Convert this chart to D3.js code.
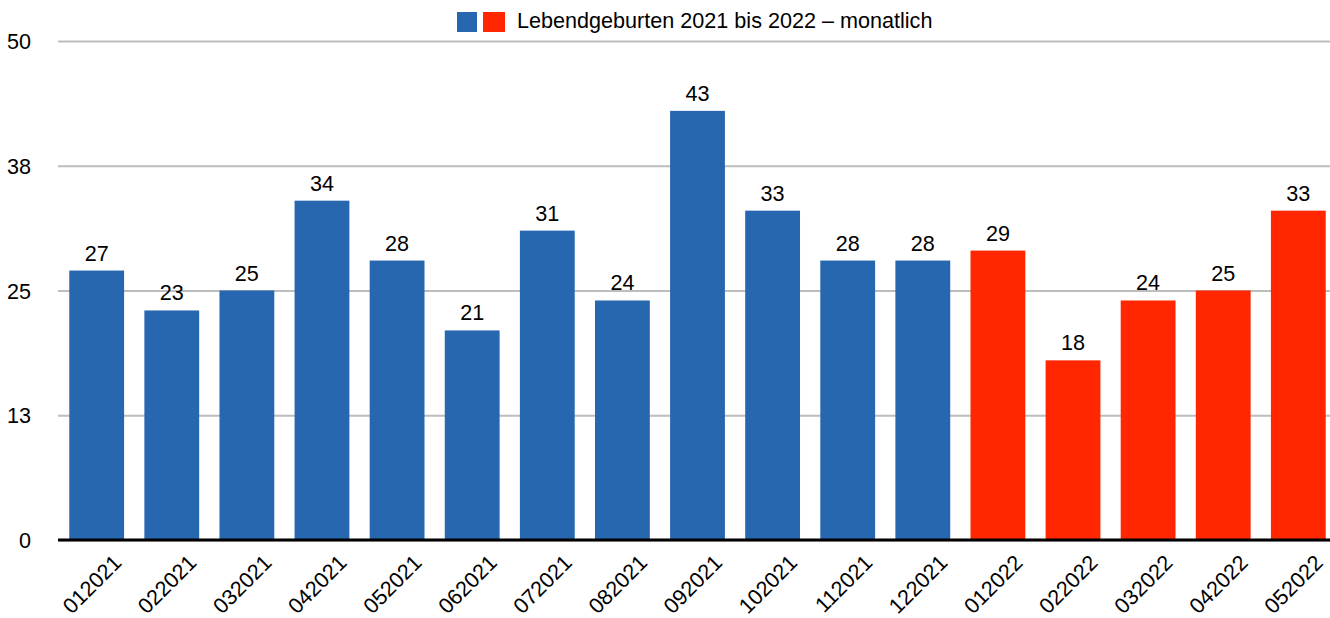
<!DOCTYPE html>
<html>
<head>
<meta charset="utf-8">
<script src="https://cdn.jsdelivr.net/npm/d3@7"></script>
<style>
  body { margin: 0; background: #fff; }
  svg text { font-family: Arial, "Liberation Sans", sans-serif; fill: #000; }
</style>
</head>
<body>
<div id="chart"></div>
<script>
// data
const months = ["012021", "022021", "032021", "042021", "052021", "062021", "072021", "082021",
  "092021", "102021", "112021", "122021", "012022", "022022", "032022", "042022", "052022"];
const births = [27, 23, 25, 34, 28, 21, 31, 24, 43, 33, 28, 28, 29, 18, 24, 25, 33];
const yTicks = [0, 12.5, 25, 37.5, 50];
const legendTitle = "Lebendgeburten 2021 bis 2022 – monatlich";

const W = 1330, H = 618;
const BLUE = "#2767b0", RED = "#ff2600";
const FONT = 21.6;

const svg = d3.select("#chart").append("svg")
  .attr("width", W).attr("height", H);

const x = d3.scaleBand()
  .domain(months)
  .range([58, 1337])
  .paddingInner(0.27)
  .paddingOuter(0.15);

const y = d3.scaleLinear().domain([0, 50]).range([540, 41]);

const colorOf = m => m.endsWith("2022") ? RED : BLUE;

// gridlines + y labels
const yAxis = svg.append("g")
  .attr("transform", "translate(58,0)")
  .call(d3.axisLeft(y).tickValues(yTicks).tickSize(-(W - 58)).tickFormat(d => Math.round(d)));
yAxis.select(".domain").remove();
yAxis.selectAll(".tick line").attr("stroke", "#bdbdbd").attr("stroke-width", 2);
yAxis.selectAll(".tick text")
  .attr("x", -27).attr("dy", "0.35em")
  .style("font-size", FONT + "px");

// bars
svg.append("g").selectAll("rect")
  .data(months)
  .join("rect")
  .attr("x", d => x(d))
  .attr("width", x.bandwidth())
  .attr("y", (d, i) => y(births[i]))
  .attr("height", (d, i) => y(0) - y(births[i]))
  .attr("fill", d => colorOf(d));

// value labels
svg.append("g").selectAll("text")
  .data(months)
  .join("text")
  .attr("x", d => x(d) + x.bandwidth() / 2)
  .attr("y", (d, i) => y(births[i]) - 10)
  .attr("text-anchor", "middle")
  .style("font-size", FONT + "px")
  .text((d, i) => births[i]);

// zero line
svg.append("line")
  .attr("x1", 58).attr("x2", W)
  .attr("y1", y(0)).attr("y2", y(0))
  .attr("stroke", "#000").attr("stroke-width", 3);

// x labels, rotated
svg.append("g").selectAll("text")
  .data(months)
  .join("text")
  .attr("transform", d => `translate(${x(d) + x.bandwidth() / 2 + 26},564) rotate(-45)`)
  .attr("text-anchor", "end")
  .style("font-size", FONT + "px")
  .text(d => d);

// legend
const legend = svg.append("g");
legend.append("rect").attr("x", 457).attr("y", 12).attr("width", 20).attr("height", 20).attr("fill", BLUE);
legend.append("rect").attr("x", 483).attr("y", 12).attr("width", 22).attr("height", 20).attr("fill", RED);
legend.append("text")
  .attr("x", 517).attr("y", 27.5)
  .style("font-size", FONT + "px")
  .text(legendTitle);
</script>
</body>
</html>
